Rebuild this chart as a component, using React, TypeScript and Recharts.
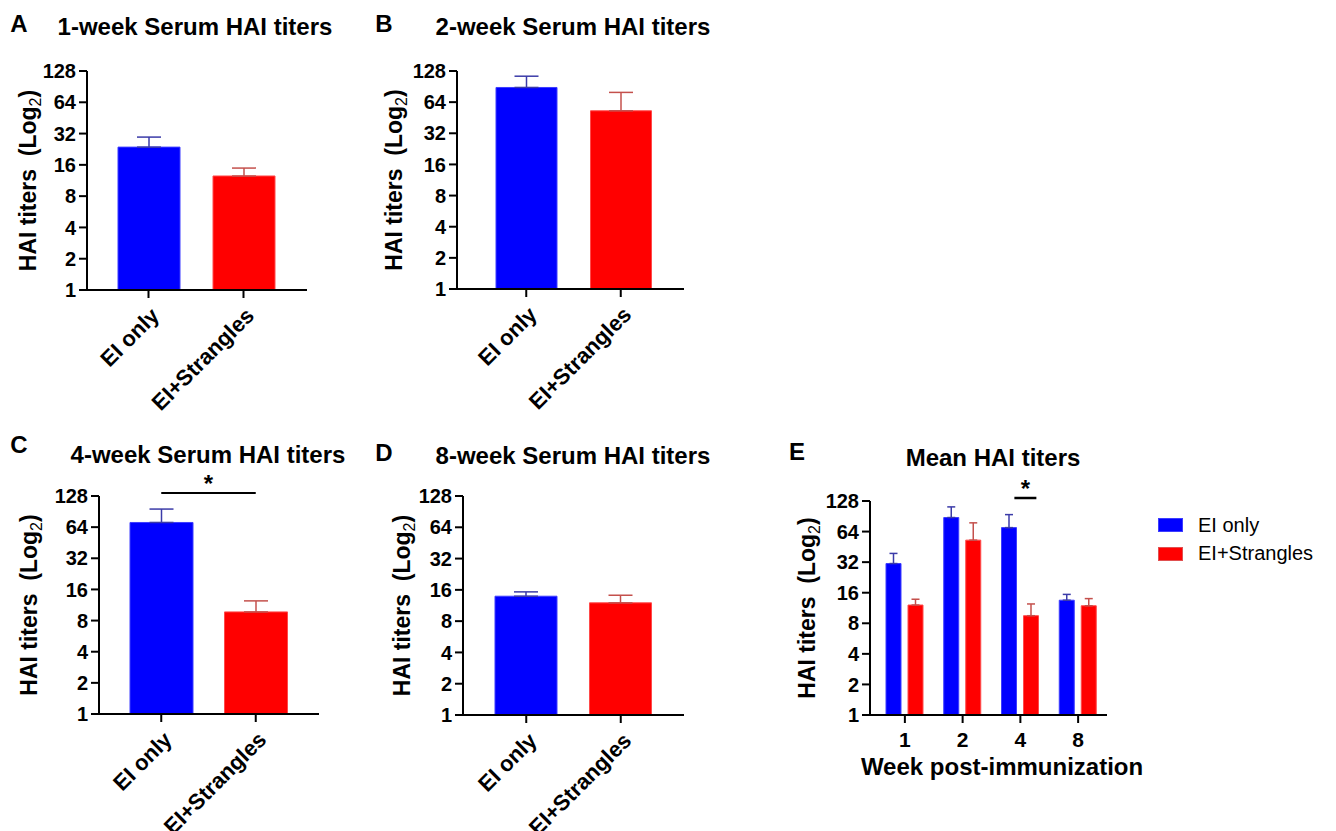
import React from 'react';
import {
  BarChart,
  Bar,
  XAxis,
  YAxis,
  ErrorBar,
  ReferenceLine,
  ReferenceDot,
} from 'recharts';

// categories
const groups = ['EI only', 'EI+Strangles'];
const weeks = ['1', '2', '4', '8'];
const yTicks = [1, 2, 4, 8, 16, 32, 64, 128];

// single-timepoint panels: [EI only, EI+Strangles] mean and mean+SEM
const week1Mean = [23.7, 12.5];
const week1Upper = [29.6, 14.9];
const week2Mean = [88.7, 52.8];
const week2Upper = [114, 79.5];
const week4Mean = [71, 9.7];
const week4Upper = [95.7, 12.4];
const week8Mean = [13.9, 12.0];
const week8Upper = [15.3, 14.2];

// mean panel (E), one value per week
const meanEIOnly = [31, 88, 70, 13.5];
const upperEIOnly = [39, 112, 94, 15.4];
const meanStrangles = [12.1, 52.7, 9.5, 11.9];
const upperStrangles = [13.8, 78, 12.4, 14];

// level used to place the significance bars
const sigLevel = 137;

const BLUE = '#0000ff';
const RED = '#ff0000';
const BLUE_ERR = '#3b3ba8';
const RED_ERR = '#c4504c';
const FONT = '"Liberation Sans", Arial, sans-serif';

const Y_AXIS_W = 90;
const M_TOP = 40;
const M_RIGHT = 10;
const M_BOTTOM = 10;

const axisStyle = { stroke: '#000', strokeWidth: 2 };

const YLabel = (props: any) => {
  const { viewBox, dist } = props;
  const cx = viewBox.x + viewBox.width - dist;
  const cy = viewBox.y + viewBox.height / 2;
  return (
    <text
      x={cx}
      y={cy}
      transform={`rotate(-90 ${cx} ${cy})`}
      textAnchor="middle"
      fontSize={23}
      fontWeight={700}
      fontFamily={FONT}
      fill="#000"
      style={{ whiteSpace: 'pre' }}
    >
      {'HAI titers  (Log'}
      <tspan fontSize={16} fontWeight={400} dy={5}>2</tspan>
      <tspan dy={-5}>)</tspan>
    </text>
  );
};

const RotTick = (props: any) => {
  const { x, y, payload } = props;
  return (
    <g transform={`translate(${x + 12},${y + 17}) rotate(-45)`}>
      <text textAnchor="end" fontSize={22} fontWeight={700} fontFamily={FONT} fill="#000">
        {payload.value}
      </text>
    </g>
  );
};

const Caption = ({ x, y, size, bold = true, children }: any) => (
  <div
    style={{
      position: 'absolute',
      left: x,
      top: y,
      transform: 'translate(-50%,-50%)',
      fontSize: size,
      fontWeight: bold ? 700 : 400,
      lineHeight: 1,
      whiteSpace: 'nowrap',
      color: '#000',
    }}
  >
    {children}
  </div>
);

const yAxisProps = {
  scale: 'log' as const,
  type: 'number' as const,
  domain: [1, 128],
  ticks: yTicks,
  interval: 0 as const,
  allowDataOverflow: true,
  width: Y_AXIS_W,
  tickSize: 8,
  tickMargin: 3,
  tick: { fill: '#000', fontSize: 20, fontWeight: 700, fontFamily: FONT },
  axisLine: axisStyle,
  tickLine: axisStyle,
};

function SerumPanel(p: any) {
  const left = p.axisX - Y_AXIS_W;
  const top = p.plotTop - M_TOP;
  const width = p.plotRight + M_RIGHT - left;
  const xAxisH = 120;
  const height = p.plotBottom - top + xAxisH + M_BOTTOM;
  const data = groups.map((g, i) => ({
    name: g,
    blue: i === 0 ? p.mean[0] : null,
    blueErr: i === 0 ? [0, p.upper[0] - p.mean[0]] : null,
    red: i === 1 ? p.mean[1] : null,
    redErr: i === 1 ? [0, p.upper[1] - p.mean[1]] : null,
  }));
  const pad = { left: p.padL, right: p.padR };
  return (
    <div style={{ position: 'absolute', left, top }}>
      <BarChart
        width={width}
        height={height}
        data={data}
        margin={{ top: M_TOP, right: M_RIGHT, left: 0, bottom: M_BOTTOM }}
      >
        <XAxis
          xAxisId="a"
          dataKey="name"
          height={xAxisH}
          padding={pad}
          interval={0}
          tickSize={8}
          tick={<RotTick />}
          axisLine={axisStyle}
          tickLine={axisStyle}
        />
        <XAxis xAxisId="b" dataKey="name" hide padding={pad} />
        <YAxis {...yAxisProps} label={<YLabel dist={p.labelDist} />} />
        <Bar xAxisId="a" dataKey="blue" fill={BLUE} stroke="#3d3dff" strokeWidth={1} barSize={p.barSize} isAnimationActive={false}>
          <ErrorBar dataKey="blueErr" width={p.capW} stroke={BLUE_ERR} strokeWidth={1.5} direction="y" />
        </Bar>
        <Bar xAxisId="b" dataKey="red" fill={RED} stroke="#ff4a4a" strokeWidth={1} barSize={p.barSize} isAnimationActive={false}>
          <ErrorBar dataKey="redErr" width={p.capW} stroke={RED_ERR} strokeWidth={1.5} direction="y" />
        </Bar>
        {p.sig && (
          <ReferenceLine
            xAxisId="a"
            segment={[
              { x: groups[0], y: sigLevel },
              { x: groups[1], y: sigLevel },
            ]}
            ifOverflow="visible"
            stroke="#000"
            strokeWidth={2}
            label={{ value: '*', position: 'top', offset: 1, fill: '#000', fontSize: 24, fontWeight: 700, fontFamily: FONT }}
          />
        )}
      </BarChart>
    </div>
  );
}

function MeanPanel() {
  const axisX = 870;
  const plotTop = 501;
  const plotBottom = 715;
  const plotRight = 1107;
  const left = axisX - Y_AXIS_W;
  const top = plotTop - M_TOP;
  const width = plotRight + M_RIGHT - left;
  const xAxisH = 50;
  const height = plotBottom - top + xAxisH + M_BOTTOM;
  const data = weeks.map((w, i) => ({
    week: w,
    only: meanEIOnly[i],
    onlyErr: [0, upperEIOnly[i] - meanEIOnly[i]],
    strangles: meanStrangles[i],
    stranglesErr: [0, upperStrangles[i] - meanStrangles[i]],
  }));
  return (
    <div style={{ position: 'absolute', left, top }}>
      <BarChart
        width={width}
        height={height}
        data={data}
        barGap={7}
        margin={{ top: M_TOP, right: M_RIGHT, left: 0, bottom: M_BOTTOM }}
      >
        <XAxis
          dataKey="week"
          height={xAxisH}
          padding={{ left: 6, right: 0 }}
          interval={0}
          tickSize={8}
          tickMargin={9}
          tick={{ fill: '#000', fontSize: 21, fontWeight: 700, fontFamily: FONT }}
          axisLine={axisStyle}
          tickLine={axisStyle}
        />
        <YAxis {...yAxisProps} label={<YLabel dist={55} />} />
        <Bar dataKey="only" name={groups[0]} fill={BLUE} stroke="#3d3dff" strokeWidth={1} barSize={15} isAnimationActive={false}>
          <ErrorBar dataKey="onlyErr" width={4} stroke={BLUE_ERR} strokeWidth={1.5} direction="y" />
        </Bar>
        <Bar dataKey="strangles" name={groups[1]} fill={RED} stroke="#ff4a4a" strokeWidth={1} barSize={15} isAnimationActive={false}>
          <ErrorBar dataKey="stranglesErr" width={4} stroke={RED_ERR} strokeWidth={1.5} direction="y" />
        </Bar>
        <ReferenceDot
          x={weeks[2]}
          y={sigLevel}
          ifOverflow="visible"
          shape={(s: any) => (
            <g>
              <line x1={s.cx - 6} x2={s.cx + 16} y1={s.cy} y2={s.cy} stroke="#000" strokeWidth={2.5} />
              <text x={s.cx + 5} y={s.cy - 1} textAnchor="middle" fontSize={24} fontWeight={700} fontFamily={FONT} fill="#000">
                *
              </text>
            </g>
          )}
        />
      </BarChart>
    </div>
  );
}

const legendItems = [
  { label: groups[0], color: BLUE, edge: '#3d3dff' },
  { label: groups[1], color: RED, edge: '#e05050' },
];

export default function App() {
  return (
    <div
      style={{
        position: 'absolute',
        left: 0,
        top: 0,
        width: 1336,
        height: 831,
        overflow: 'hidden',
        background: '#fff',
        fontFamily: FONT,
      }}
    >
      <SerumPanel mean={week1Mean} upper={week1Upper} axisX={87} plotTop={71} plotBottom={290} plotRight={307} padL={14} padR={16} barSize={62} capW={12} labelDist={51} />
      <SerumPanel mean={week2Mean} upper={week2Upper} axisX={457} plotTop={71} plotBottom={289} plotRight={684} padL={22} padR={16} barSize={61} capW={12} labelDist={55} />
      <SerumPanel mean={week4Mean} upper={week4Upper} axisX={99} plotTop={496} plotBottom={714} plotRight={319} padL={15} padR={16} barSize={63} capW={12} labelDist={62} sig />
      <SerumPanel mean={week8Mean} upper={week8Upper} axisX={463} plotTop={496} plotBottom={715} plotRight={684} padL={16} padR={16} barSize={62} capW={12} labelDist={53} />
      <MeanPanel />

      <Caption x={19} y={24} size={24}>A</Caption>
      <Caption x={195} y={27} size={24}>1-week Serum HAI titers</Caption>
      <Caption x={384} y={24} size={24}>B</Caption>
      <Caption x={573} y={27} size={24}>2-week Serum HAI titers</Caption>
      <Caption x={19} y={445} size={24}>C</Caption>
      <Caption x={208} y={455} size={24}>4-week Serum HAI titers</Caption>
      <Caption x={384} y={453} size={24}>D</Caption>
      <Caption x={573} y={456} size={24}>8-week Serum HAI titers</Caption>
      <Caption x={797} y={452} size={24}>E</Caption>
      <Caption x={993} y={458} size={24}>Mean HAI titers</Caption>
      <Caption x={1002} y={767} size={24}>Week post-immunization</Caption>

      <div style={{ position: 'absolute', left: 1158, top: 511 }}>
        {legendItems.map((it) => (
          <div key={it.label} style={{ display: 'flex', alignItems: 'center', height: 28.5 }}>
            <span
              style={{
                display: 'inline-block',
                width: 25,
                height: 14,
                boxSizing: 'border-box',
                background: it.color,
                border: `1px solid ${it.edge}`,
              }}
            />
            <span style={{ marginLeft: 15, fontSize: 20, color: '#000' }}>{it.label}</span>
          </div>
        ))}
      </div>
    </div>
  );
}
